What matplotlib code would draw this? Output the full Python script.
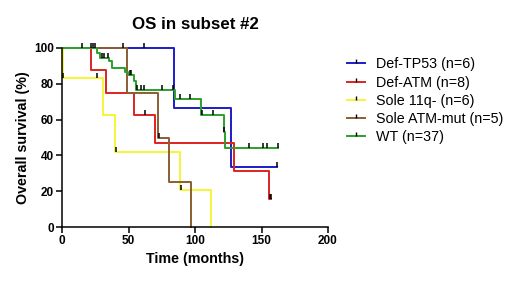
import numpy as np
import matplotlib
matplotlib.use("Agg")
import matplotlib.pyplot as plt
from matplotlib.lines import Line2D

plt.rcParams["font.family"] = ["Liberation Sans", "DejaVu Sans"]

# survival curves: drop times (months), survival after each drop (%),
# last follow-up and censor times
labels = ["Def-TP53 (n=6)", "Def-ATM (n=8)", "Sole 11q- (n=6)",
          "Sole ATM-mut (n=5)", "WT (n=37)"]
colors = ["#1c1cc8", "#dd2222", "#f5f536", "#8b5e34", "#2ca02c"]

tp53_times = [84.4, 127]
tp53_surv = [66.7, 33.3]
tp53_end = 162
tp53_cens = [62, 162]

atm_times = [22, 33, 54.4, 70, 129.5, 156]
atm_surv = [87.5, 75, 62.5, 46.9, 31.3, 15.6]
atm_end = 157.5
atm_cens = [62.6, 156.6, 157.5]

q11_times = [0.5, 31, 40, 89, 112]
q11_surv = [83.3, 62.5, 41.7, 20.8, 0]
q11_end = 112
q11_cens = [1.0, 26.5, 40.4, 89.4]

atmmut_times = [48.9, 72, 80.7, 96.8]
atmmut_surv = [75, 50, 25, 0]
atmmut_end = 96.8
atmmut_cens = [46, 73]

wt_times = [26.3, 28.8, 35.6, 37.8, 47.6, 49.8, 53.8, 55.6, 85.2, 104.5,
            121.5, 122.7]
wt_surv = [97.3, 94.6, 93, 89, 86.8, 85, 81.5, 76.5, 71.5, 62.6, 53.2, 44.3]
wt_end = 162.1
wt_cens = [15, 22, 23.5, 25, 30, 31.8, 34.3, 51, 51.8, 56.6, 59.4, 61.9,
           75.2, 83.2, 88.5, 96.5, 105.3, 113.8, 122.1, 140.3, 150.8,
           154.1, 162.1]

groups = [
    (tp53_times, tp53_surv, tp53_end, tp53_cens),
    (atm_times, atm_surv, atm_end, atm_cens),
    (q11_times, q11_surv, q11_end, q11_cens),
    (atmmut_times, atmmut_surv, atmmut_end, atmmut_cens),
    (wt_times, wt_surv, wt_end, wt_cens),
]

tick_up = [(0, 0), (0, 1)]

fig = plt.figure(figsize=(5.2, 2.82), dpi=100)
ax = fig.add_axes([62 / 520, 55 / 282, 266 / 520, 179 / 282])

for (times, surv, end, cens), color in zip(groups, colors):
    t = np.concatenate([[0], times, [end]])
    s = np.concatenate([[100], surv, [surv[-1]]])
    ax.step(t, s, where="post", color=color, lw=1.4, clip_on=False)
    cy = s[np.searchsorted(t, cens, side="right") - 1]
    ax.plot(cens, cy, ls="none", marker=tick_up, ms=7, mec="black",
            mew=1.1, clip_on=False)

ax.set_xlim(0, 200)
ax.set_ylim(0, 100)
ax.set_xticks([0, 50, 100, 150, 200])
ax.set_yticks([0, 20, 40, 60, 80, 100])
for side in ("top", "right"):
    ax.spines[side].set_visible(False)
for side in ("left", "bottom"):
    ax.spines[side].set_linewidth(1.1)
ax.tick_params(direction="out", length=4, width=1.1, labelsize=8.5, pad=2)
for lab in ax.get_xticklabels() + ax.get_yticklabels():
    lab.set_fontweight("bold")

ax.set_xlabel("Time (months)", fontsize=10.3, fontweight="bold", labelpad=3)
ax.set_ylabel("Overall survival (%)", fontsize=10.3, fontweight="bold",
              labelpad=3)
ax.set_title("OS in subset #2", fontsize=12.2, fontweight="bold", pad=14)

handles = [Line2D([0], [0], color=c, lw=1.4, marker=tick_up, ms=6,
                  mec="black", mew=1.0) for c in colors]
fig.legend(handles, labels, loc="upper left", bbox_to_anchor=(0.667, 0.797),
           frameon=False, fontsize=10.3, handlelength=1.3, handletextpad=0.75,
           labelspacing=0.3, borderpad=0, borderaxespad=0, markerscale=1)

fig.savefig("out.png", dpi=100, facecolor="white")
